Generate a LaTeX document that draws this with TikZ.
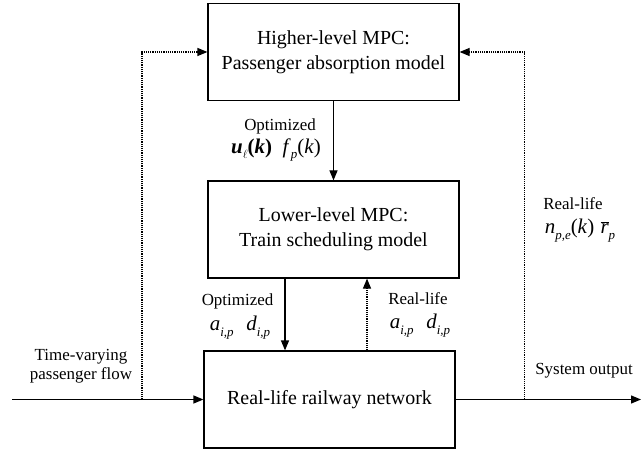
\documentclass[tikz,border=0pt]{standalone}
\usepackage{fontspec}
\setmainfont{Liberation Serif}
\usetikzlibrary{arrows.meta}
\newcommand{\ssb}[1]{\raisebox{-0.28em}{\fontsize{13}{13}\selectfont\itshape #1}}
\begin{document}
\begin{tikzpicture}[x=1bp,y=-1bp,
  box/.style={draw, line width=1.2bp, minimum width=251bp, minimum height=97bp, inner sep=0pt, align=center, font=\fontsize{20}{25}\selectfont},
  lbl/.style={inner sep=0pt, align=center, font=\fontsize{17}{19.5}\selectfont},
  mth/.style={inner sep=0pt, font=\fontsize{21}{24}\selectfont},
  conn/.style={line width=1.2bp, -{Triangle[length=10bp,width=8bp]}},
  fb/.style={conn, densely dotted}]
\useasboundingbox (0,0) rectangle (642,452);
% boxes
\node[box] (top) at (333.5,52) {Higher-level MPC:\\Passenger absorption model};
\node[box] (mid) at (333.5,229.5) {Lower-level MPC:\\Train scheduling model};
\node[box] (net) at (329.5,399.5) {Real-life railway network};
% labels
\node[lbl] (opt1) at (280,126) {Optimized};
\node[mth] (m1) at (276,150) {\textbf{\textit{u}}\ssb{$\ell$}\textbf{(\textit{k})}\hspace{0.5em}\textit{f}\ssb{p}(\textit{k})};
\node[lbl] (opt2) at (237.5,301) {Optimized};
\node[mth] (m2) at (240,328) {\textit{a}\ssb{i,p}\hspace{0.6em}\textit{d}\ssb{i,p}};
\node[lbl] (rl1) at (418,299) {Real-life};
\node[mth] (m3) at (420,326) {\textit{a}\ssb{i,p}\hspace{0.6em}\textit{d}\ssb{i,p}};
\node[lbl] (rl2) at (573,204) {Real-life};
\node[mth] (m4) at (580,231) {\textit{n}\ssb{p,e}(\textit{k})\hspace{0.3em}$\overline{\mbox{\itshape r}}$\ssb{p}};
\node[lbl] (tv) at (81,366) {Time-varying\\passenger flow};
\node[lbl] (so) at (584,371) {System output};
% coordinates
\coordinate (in) at (12,399.5);
\coordinate (out) at (641,399.5);
\coordinate (lf) at (142,399.5);
\coordinate (rf) at (524.5,399.5);
\coordinate (xo) at (285,0);
\coordinate (xr) at (367,0);
% connectors
\draw[conn] (top.south) -- (mid.north);
\draw[conn] (mid.south -| xo) -- (net.north -| xo);
\draw[fb] (net.north -| xr) -- (mid.south -| xr);
\draw[conn] (in) -- (net.west);
\draw[conn] (net.east) -- (out);
\draw[fb] (lf) |- (top.west);
\draw[fb] (rf) |- (top.east);
\end{tikzpicture}
\end{document}
